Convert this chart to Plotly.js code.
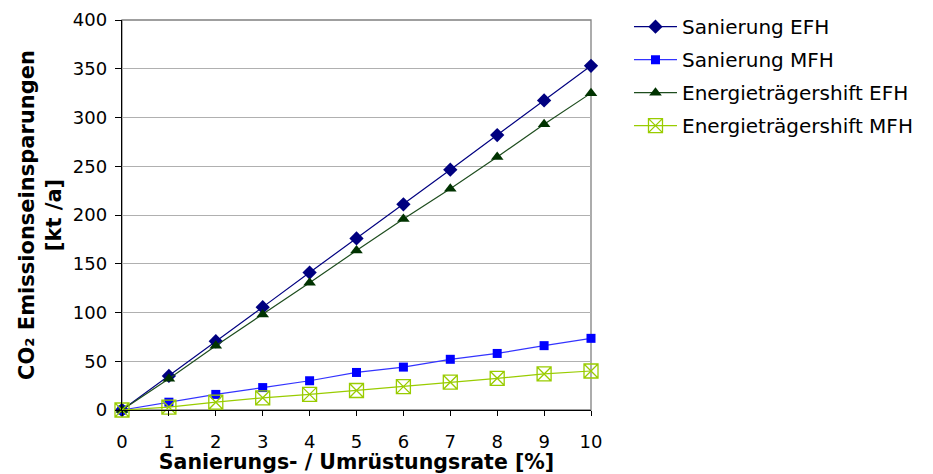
<!DOCTYPE html>
<html>
<head>
<meta charset="utf-8">
<script src="https://cdn.plot.ly/plotly-3.0.1.min.js"></script>
<style>
  html, body { margin: 0; padding: 0; background: #ffffff; }
  #chart { width: 933px; height: 474px; }
</style>
</head>
<body>
<div id="chart"></div>
<script>
// Sanierungs- / Umrüstungsrate in Prozent
const rate = [0, 1, 2, 3, 4, 5, 6, 7, 8, 9, 10];

// CO2-Emissionseinsparungen in kt/a
const sanierungEFH = [0, 35, 70.5, 105.5, 141, 176, 211, 246.5, 282, 317.5, 353];
const sanierungMFH = [0, 8, 16, 23, 30, 38.5, 44, 52, 58, 66, 73.5];
const shiftEFH = [0, 32, 66, 98, 130.5, 163.5, 196, 227, 259.5, 293, 325];
const shiftMFH = [0, 3, 8, 12.5, 16, 20, 24, 28.5, 32.5, 37, 40];

const seriesNames = ['Sanierung EFH', 'Sanierung MFH', 'Energieträgershift EFH', 'Energieträgershift MFH'];
const xTickLabels = rate.map(String);
const yTickValues = [0, 50, 100, 150, 200, 250, 300, 350, 400];

const FONT = '"DejaVu Sans", Verdana, sans-serif';

function series(name, y, lineColor, marker, group) {
  return {
    type: 'scatter',
    mode: 'lines+markers',
    name: name,
    x: rate,
    y: y,
    legendgroup: group,
    cliponaxis: false,
    line: { color: lineColor, width: 1.2 },
    marker: marker
  };
}

const traces = [
  series(seriesNames[0], sanierungEFH, '#000080',
    { symbol: 'diamond', size: 11, color: '#000080', line: { width: 0 } }, 'g1'),
  series(seriesNames[1], sanierungMFH, '#3333ff',
    { symbol: 'square', size: 9, color: '#0000ff', line: { width: 0 } }, 'g2'),
  series(seriesNames[2], shiftEFH, '#1e4d1e',
    { symbol: 'triangle-up', size: 11, color: '#003300', line: { width: 0 } }, 'g3'),
  series(seriesNames[3], shiftMFH, '#99cc00',
    { symbol: 'square-x-open', size: 14, color: '#99cc00', line: { width: 1.3, color: '#99cc00' } }, 'g4')
];

const layout = {
  width: 933,
  height: 474,
  margin: { l: 122, r: 342, t: 20, b: 64, autoexpand: false },
  paper_bgcolor: '#ffffff',
  plot_bgcolor: '#ffffff',
  font: { family: FONT, size: 18, color: '#000000' },
  showlegend: true,
  legend: {
    x: 1.081, xanchor: 'left',
    y: 1.033, yanchor: 'top',
    font: { family: FONT, size: 20, color: '#000000' },
    itemwidth: 43,
    traceorder: 'grouped',
    tracegroupgap: 4,
    bgcolor: 'rgba(0,0,0,0)',
    borderwidth: 0
  },
  xaxis: {
    range: [0, 10],
    tickvals: rate,
    ticktext: xTickLabels,
    ticks: 'outside',
    ticklen: 5,
    tickcolor: '#000000',
    ticklabelstandoff: 10,
    tickfont: { family: FONT, size: 18, color: '#000000' },
    showline: true,
    linecolor: '#000000',
    linewidth: 1.3,
    showgrid: false,
    zeroline: false,
    title: {
      text: 'Sanierungs- / Umrüstungsrate [%]',
      font: { family: FONT, size: 20.5, color: '#000000', weight: 'bold' },
      standoff: 3
    }
  },
  yaxis: {
    range: [0, 400],
    tickvals: yTickValues,
    ticks: 'outside',
    ticklen: 6,
    tickcolor: '#000000',
    ticklabelstandoff: 4,
    tickfont: { family: FONT, size: 18, color: '#000000' },
    showline: true,
    linecolor: '#000000',
    linewidth: 1.3,
    showgrid: true,
    gridcolor: '#b0b0b0',
    gridwidth: 1,
    zeroline: false,
    title: {
      text: 'CO₂ Emissionseinsparungen<br>[kt /a]',
      font: { family: FONT, size: 21, color: '#000000', weight: 'bold' },
      standoff: 5
    }
  },
  shapes: [{
    type: 'rect', xref: 'paper', yref: 'paper',
    x0: 0, x1: 1, y0: 0, y1: 1,
    line: { color: '#808080', width: 1.3 },
    layer: 'below'
  }]
};

Plotly.newPlot('chart', traces, layout, { displayModeBar: false, staticPlot: true });
</script>
</body>
</html>
